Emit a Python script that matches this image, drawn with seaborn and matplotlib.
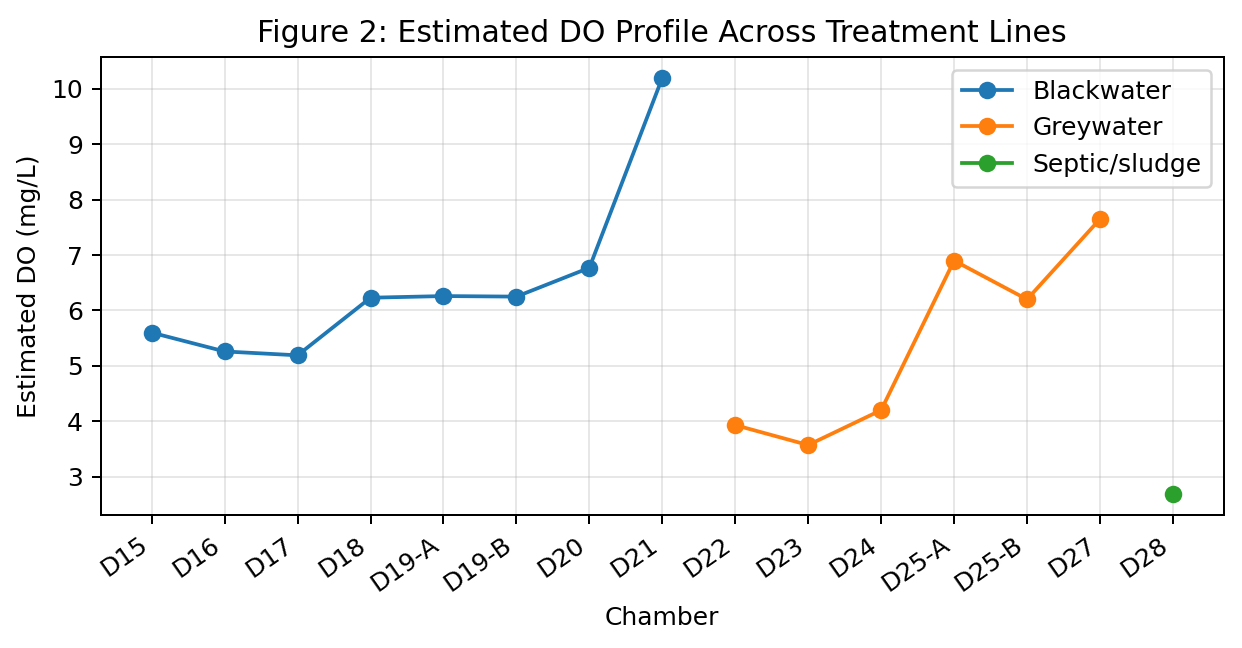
import pandas as pd
import matplotlib
matplotlib.use("Agg")
import matplotlib.pyplot as plt
from matplotlib.ticker import MultipleLocator
import seaborn as sns

# chambers per treatment line
blackwater_chambers = ["D15", "D16", "D17", "D18", "D19-A", "D19-B", "D20", "D21"]
blackwater_do = [5.60, 5.26, 5.19, 6.23, 6.26, 6.25, 6.77, 10.20]

greywater_chambers = ["D22", "D23", "D24", "D25-A", "D25-B", "D27"]
greywater_do = [3.93, 3.57, 4.20, 6.90, 6.20, 7.65]

septic_chambers = ["D28"]
septic_do = [2.68]

lines = [
    ("Blackwater", blackwater_chambers, blackwater_do),
    ("Greywater", greywater_chambers, greywater_do),
    ("Septic/sludge", septic_chambers, septic_do),
]

plt.rcParams["font.family"] = ["DejaVu Sans"]
fig, ax = plt.subplots(figsize=(6.9, 3.6), dpi=180)

palette = sns.color_palette("tab10")
for i, (name, chambers, values) in enumerate(lines):
    df = pd.DataFrame({"Chamber": chambers, "DO": values})
    sns.lineplot(data=df, x="Chamber", y="DO", ax=ax, color=palette[i],
                 marker="o", markersize=7, markeredgewidth=0, linewidth=1.5,
                 sort=False, label=name)

ax.set_title("Figure 2: Estimated DO Profile Across Treatment Lines", fontsize=12)
ax.set_xlabel("Chamber")
ax.set_ylabel("Estimated DO (mg/L)")
ax.yaxis.set_major_locator(MultipleLocator(1))
ax.grid(True, alpha=0.3)
plt.setp(ax.get_xticklabels(), rotation=35, ha="right")
ax.legend(loc="upper right")
fig.subplots_adjust(left=0.081, right=0.9855, top=0.912, bottom=0.205)
fig.savefig("out.png", dpi=180)
